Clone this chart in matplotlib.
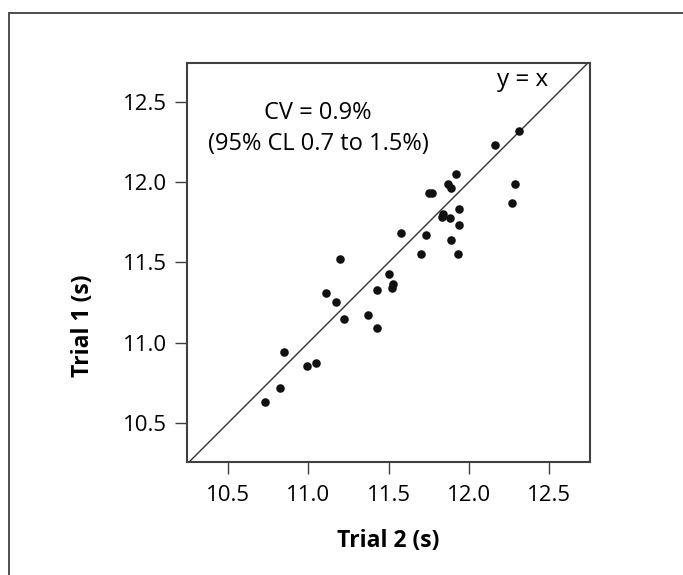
import matplotlib.pyplot as plt
from matplotlib.patches import Rectangle

plt.rcParams['font.family'] = ['Open Sans', 'DejaVu Sans']

# Trial 2 (x) and Trial 1 (y) sprint times, seconds
trial2 = [10.73, 10.82, 10.85, 10.99, 11.05, 11.11, 11.17, 11.20, 11.22, 11.37,
          11.43, 11.43, 11.50, 11.53, 11.52, 11.58, 11.70, 11.73, 11.75, 11.77,
          11.83, 11.84, 11.88, 11.87, 11.89, 11.92, 11.89, 11.94, 11.94, 11.93,
          12.16, 12.31, 12.29, 12.27]
trial1 = [10.63, 10.72, 10.94, 10.855, 10.87, 11.31, 11.25, 11.52, 11.15, 11.17,
          11.33, 11.09, 11.43, 11.365, 11.34, 11.68, 11.55, 11.67, 11.93, 11.935,
          11.78, 11.80, 11.775, 11.99, 11.965, 12.05, 11.64, 11.83, 11.73, 11.55,
          12.23, 12.32, 11.99, 11.87]
ticks = [10.5, 11.0, 11.5, 12.0, 12.5]

fig = plt.figure(figsize=(6.83, 5.75), dpi=100)
ax = fig.add_axes([0.2742, 0.197, 0.5896, 0.6929])

# outer frame of the original figure (only left/top edges visible)
fig.patches.append(Rectangle((8.5 / 683, -0.1), 1.2, (575 - 13.5) / 575 + 0.1,
                             transform=fig.transFigure, fill=False,
                             edgecolor='#4d4d4d', linewidth=1.4))

ax.axline((10.0, 10.0), (13.0, 13.0), color='#333333', linewidth=1.0)
ax.scatter(trial2, trial1, s=38, color='#111111', zorder=3, linewidths=0)

ax.set_xlim(10.245, 12.755)
ax.set_ylim(10.258, 12.740)
ax.set_xticks(ticks)
ax.set_yticks(ticks)
ax.set_xticklabels([f'{t:.1f}' for t in ticks])
ax.set_yticklabels([f'{t:.1f}' for t in ticks])
ax.tick_params(length=8.5, width=1.0, color='#404040', labelsize=16, pad=6)
ax.tick_params(axis='x', pad=8)
for sp in ax.spines.values():
    sp.set_linewidth(1.5)
    sp.set_color('#404040')

ax.set_xlabel('Trial 2 (s)', fontsize=16.5, fontweight='bold', labelpad=17)
ax.set_ylabel('Trial 1 (s)', fontsize=16.5, fontweight='bold')
ax.yaxis.set_label_coords(-0.228, 0.342)

ax.text(0.325, 0.8594, 'CV = 0.9%', transform=ax.transAxes, ha='center',
        va='baseline', fontsize=17)
ax.text(0.325, 0.7824, '(95% CL 0.7 to 1.5%)', transform=ax.transAxes,
        ha='center', va='baseline', fontsize=17)
ax.text(0.833, 0.943, 'y = x', transform=ax.transAxes, ha='center',
        va='baseline', fontsize=17.5)

fig.savefig('out.png', dpi=100)
